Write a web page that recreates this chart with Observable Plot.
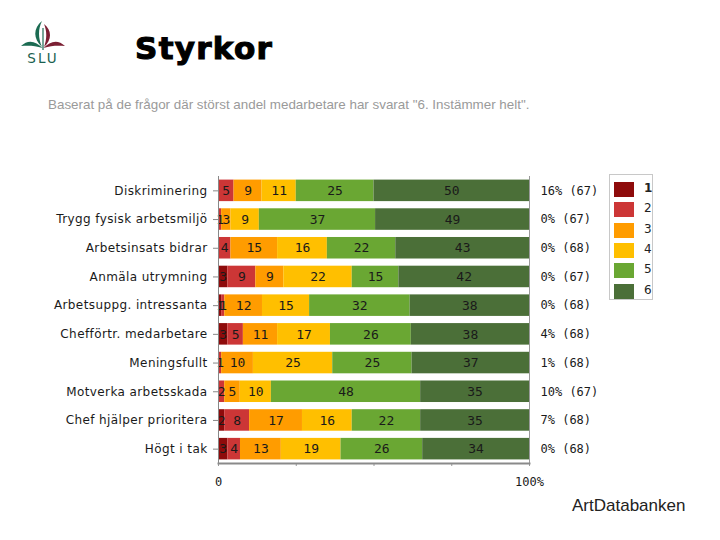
<!DOCTYPE html>
<html>
<head>
<meta charset="utf-8">
<script src="https://cdn.jsdelivr.net/npm/d3@7"></script>
<script src="https://cdn.jsdelivr.net/npm/@observablehq/plot@0.6"></script>
<style>
  html, body { margin: 0; padding: 0; background: #fff; }
  #page { position: relative; width: 720px; height: 540px; overflow: hidden; background: #fff; }
  #chart { position: absolute; left: 0; top: 0; }
  .abs { position: absolute; }
  #title { left: 135px; top: 30px; font-family: "DejaVu Sans", sans-serif; font-weight: bold; font-size: 31px; letter-spacing: 1.3px; color: #000; -webkit-text-stroke: 1.1px #000; }
  #subtitle { left: 48px; top: 97px; font-family: "Liberation Sans", Arial, sans-serif; font-size: 13.4px; color: #9a9a9a; white-space: nowrap; }
  #brand { left: 572px; top: 496px; font-family: "Liberation Sans", Arial, sans-serif; font-size: 17px; color: #222; }
  #legend { left: 609px; top: 174px; width: 44px; height: 126px; border: 1px solid #c8c8c8; box-sizing: border-box; background: #fff; }
  .lg-row { position: absolute; left: 4px; width: 40px; height: 15px; }
  .lg-sw { position: absolute; left: 0; top: 0; width: 20px; height: 15px; }
  .lg-tx { position: absolute; left: 30px; top: -1px; font-family: "DejaVu Sans", sans-serif; font-size: 12px; color: #222; }
</style>
</head>
<body>
<div id="page">
  <div id="chart"></div>
  <svg class="abs" style="left:19px;top:20px" width="48" height="46" viewBox="0 0 48 46">
    <path d="M23 1 C14 8 14 19 23 27 C19 18 19 9 23 1 Z" fill="#1b6b52"/>
    <path d="M25 4 C33 10 33 20 25 27 C28 19 28 11 25 4 Z" fill="#7b1f33"/>
    <path d="M23.4 8 L23.4 30 L24.6 30 L24.6 8 Z" fill="#1b6b52"/>
    <path d="M2 26 C9 19 17 21 23.5 28 C16 25.5 9 25.5 2 26 Z" fill="#1b6b52"/>
    <path d="M46 26 C39 19 31 21 24.5 28 C32 25.5 39 25.5 46 26 Z" fill="#7b1f33"/>
    <text x="24" y="43" text-anchor="middle" font-family="DejaVu Sans, sans-serif" font-size="13.5" fill="#1b5f50" letter-spacing="2">SLU</text>
  </svg>
  <div id="title" class="abs">Styrkor</div>
  <div id="subtitle" class="abs">Baserat på de frågor där störst andel medarbetare har svarat "6. Instämmer helt".</div>
  <div id="legend" class="abs"></div>
  <div id="brand" class="abs">ArtDatabanken</div>
</div>
<script>
const questions = [
  "Diskriminering",
  "Trygg fysisk arbetsmiljö",
  "Arbetsinsats bidrar",
  "Anmäla utrymning",
  "Arbetsuppg. intressanta",
  "Chefförtr. medarbetare",
  "Meningsfullt",
  "Motverka arbetsskada",
  "Chef hjälper prioritera",
  "Högt i tak"
];
const categories = ["1", "2", "3", "4", "5", "6"];
const v1 = [0, 0, 0, 3, 1, 3, 0, 0, 2, 3];
const v2 = [5, 1, 4, 9, 1, 5, 1, 2, 8, 4];
const v3 = [9, 3, 15, 9, 12, 11, 10, 5, 17, 13];
const v4 = [11, 9, 16, 22, 15, 17, 25, 10, 16, 19];
const v5 = [25, 37, 22, 15, 32, 26, 25, 48, 22, 26];
const v6 = [50, 49, 43, 42, 38, 38, 37, 35, 35, 34];
const sideLabels = ["16% (67)", "0% (67)", "0% (68)", "0% (67)", "0% (68)", "4% (68)", "1% (68)", "10% (67)", "7% (68)", "0% (68)"];
const xTickLabels = ["0", "100%"];
const colors = ["#8e0b0b", "#cc3636", "#ff9c00", "#ffbf00", "#6aa733", "#4b6f38"];

const series = [v1, v2, v3, v4, v5, v6];
const data = [];
questions.forEach((q, i) => {
  categories.forEach((c, j) => data.push({ q, cat: c, value: series[j][i] }));
});
const side = questions.map((q, i) => ({ q, label: sideLabels[i] }));

const chart = Plot.plot({
  width: 720,
  height: 540,
  marginTop: 176,
  marginBottom: 77,
  marginLeft: 218,
  marginRight: 191,
  style: { fontFamily: "DejaVu Sans, sans-serif", fontSize: "11px", color: "#222", background: "transparent" },
  x: { domain: [0, 1], axis: null },
  y: { domain: questions, paddingInner: 0.25, paddingOuter: 0.125, round: false, axis: null },
  color: { domain: categories, range: colors },
  marks: [
    Plot.barX(data, Plot.stackX({ x: "value", y: "q", fill: "cat", order: categories, offset: "normalize" })),
    Plot.text(data, Plot.stackX({
      x: "value", y: "q", z: "cat", order: categories, offset: "normalize",
      text: d => d.value > 0 ? String(d.value) : "",
      fontFamily: "DejaVu Sans Mono, monospace", fontSize: 13, fill: "#1a1a1a"
    })),
    Plot.ruleX([1], { stroke: "#9a9a9a", strokeWidth: 1 }),
    Plot.axisY({ tickSize: 5, tickPadding: 6, label: null, stroke: "#888", fontSize: 12, fill: "#1a1a1a" }),
    Plot.frame({ anchor: "left", stroke: "#888" }),
    Plot.axisX({ ticks: [0, 0.25, 0.5, 0.75, 1], tickSize: 3, tickPadding: 11, label: null, stroke: "#999",
      tickFormat: d => d === 0 ? xTickLabels[0] : d === 1 ? xTickLabels[1] : "",
      fontFamily: "DejaVu Sans Mono, monospace", fontSize: 12, fill: "#1a1a1a" }),
    Plot.frame({ anchor: "bottom", stroke: "#8a8a8a", strokeWidth: 2 }),
    Plot.text(side, { x: () => 1, y: "q", text: "label", dx: 11, textAnchor: "start",
      fontFamily: "DejaVu Sans Mono, monospace", fontSize: 12, fill: "#1a1a1a" })
  ]
});
d3.select(chart).selectAll('[aria-label="y-axis tick label"] text').attr("letter-spacing", "0.4");
document.getElementById("chart").appendChild(chart);

const legend = document.getElementById("legend");
categories.forEach((c, j) => {
  const row = document.createElement("div");
  row.className = "lg-row";
  row.style.top = (7 + j * 20.3) + "px";
  const sw = document.createElement("div");
  sw.className = "lg-sw";
  sw.style.background = colors[j];
  const tx = document.createElement("div");
  tx.className = "lg-tx";
  tx.textContent = c;
  if (j === 0) tx.style.fontWeight = "bold";
  row.appendChild(sw);
  row.appendChild(tx);
  legend.appendChild(row);
});
</script>
</body>
</html>
